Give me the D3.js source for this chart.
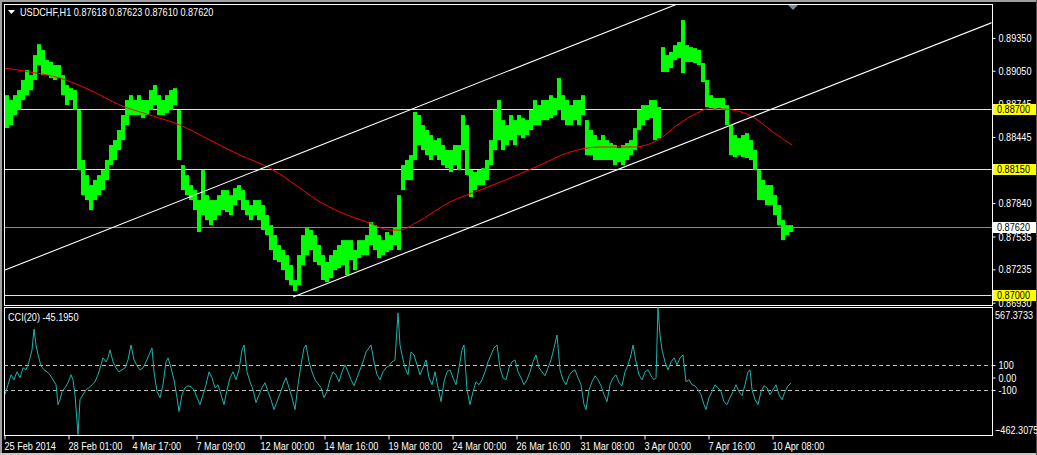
<!DOCTYPE html>
<html><head><meta charset="utf-8">
<script src="https://cdn.jsdelivr.net/npm/d3@7"></script>
<style>html,body{margin:0;padding:0;background:#000;overflow:hidden}</style>
</head><body><svg id="c" width="1037" height="455"></svg>
<script>
// ---------------- data ----------------
const titleText = "USDCHF,H1  0.87618 0.87623 0.87610 0.87620";
const cciTitle = "CCI(20) -45.1950";
const barsPerColumn = 4;
const highs = [
0.88827,0.88782,0.88827,0.88873,0.88965,0.89056,0.89010,0.89193,0.89293,0.89239,
0.89148,0.89130,0.89102,0.89102,0.89010,0.88919,0.88891,0.88873,0.88691,0.88234,
0.88096,0.88005,0.88051,0.88096,0.88142,0.88234,0.88371,0.88416,0.88508,0.88645,
0.88782,0.88827,0.88782,0.88827,0.88782,0.88782,0.88873,0.88919,0.88827,0.88782,
0.88827,0.88873,0.88891,0.88691,0.88188,0.88096,0.88005,0.87959,0.87868,0.88142,
0.87913,0.87868,0.87868,0.87913,0.87959,0.87959,0.87913,0.87977,0.88005,0.87959,
0.87868,0.87822,0.87868,0.87868,0.87822,0.87731,0.87639,0.87548,0.87457,0.87411,
0.87365,0.87274,0.87137,0.87365,0.87548,0.87612,0.87594,0.87548,0.87457,0.87365,
0.87302,0.87365,0.87411,0.87457,0.87502,0.87502,0.87502,0.87411,0.87502,0.87502,
0.87548,0.87667,0.87639,0.87548,0.87502,0.87576,0.87548,0.87612,0.87913,0.88188,
0.88234,0.88279,0.88673,0.88645,0.88553,0.88508,0.88462,0.88416,0.88434,0.88371,
0.88325,0.88325,0.88371,0.88371,0.88645,0.88553,0.88142,0.88124,0.88142,0.88160,
0.88234,0.88416,0.88691,0.88782,0.88599,0.88553,0.88645,0.88599,0.88645,0.88617,
0.88599,0.88691,0.88782,0.88736,0.88782,0.88782,0.88827,0.88800,0.88983,0.88827,
0.88782,0.88736,0.88782,0.88782,0.88827,0.88599,0.88508,0.88462,0.88416,0.88462,
0.88416,0.88389,0.88371,0.88343,0.88371,0.88389,0.88416,0.88526,0.88691,0.88736,
0.88736,0.88782,0.88782,0.88718,0.89266,0.89193,0.89221,0.89284,0.89312,0.89513,
0.89284,0.89266,0.89257,0.89239,0.89120,0.88965,0.88827,0.88800,0.88800,0.88800,
0.88736,0.88553,0.88462,0.88434,0.88462,0.88480,0.88416,0.88325,0.88142,0.88051,
0.88005,0.88005,0.87913,0.87822,0.87685,0.87639,0.87639];
const lows = [
0.88526,0.88553,0.88645,0.88691,0.88782,0.88827,0.88873,0.88965,0.89102,0.89010,
0.89010,0.88983,0.88965,0.88983,0.88827,0.88736,0.88782,0.88691,0.88142,0.87913,
0.87868,0.87777,0.87868,0.87913,0.87959,0.88051,0.88188,0.88234,0.88325,0.88416,
0.88553,0.88645,0.88645,0.88645,0.88617,0.88645,0.88691,0.88736,0.88645,0.88645,
0.88664,0.88691,0.88736,0.88234,0.87959,0.87913,0.87868,0.87777,0.87576,0.87731,
0.87685,0.87639,0.87685,0.87731,0.87777,0.87759,0.87731,0.87822,0.87868,0.87777,
0.87731,0.87685,0.87731,0.87685,0.87594,0.87548,0.87411,0.87320,0.87302,0.87228,
0.87137,0.87091,0.87036,0.87091,0.87274,0.87365,0.87411,0.87302,0.87274,0.87137,
0.87119,0.87155,0.87228,0.87246,0.87274,0.87183,0.87320,0.87228,0.87338,0.87365,
0.87365,0.87457,0.87411,0.87338,0.87365,0.87393,0.87411,0.87457,0.87411,0.87959,
0.88051,0.88051,0.88234,0.88371,0.88325,0.88279,0.88234,0.88279,0.88234,0.88188,
0.88160,0.88124,0.88188,0.88142,0.88325,0.88096,0.87895,0.87959,0.88005,0.88005,
0.88051,0.88188,0.88325,0.88416,0.88325,0.88371,0.88416,0.88371,0.88462,0.88434,
0.88462,0.88508,0.88553,0.88553,0.88599,0.88599,0.88617,0.88645,0.88691,0.88599,
0.88553,0.88553,0.88599,0.88553,0.88645,0.88279,0.88279,0.88234,0.88234,0.88234,
0.88234,0.88234,0.88188,0.88215,0.88188,0.88234,0.88279,0.88325,0.88508,0.88553,
0.88599,0.88617,0.88416,0.88434,0.89038,0.89038,0.89075,0.89148,0.89166,0.89029,
0.89130,0.89130,0.89120,0.89102,0.88947,0.88718,0.88709,0.88691,0.88709,0.88691,
0.88553,0.88279,0.88261,0.88279,0.88261,0.88252,0.88234,0.88142,0.87868,0.87868,
0.87822,0.87822,0.87731,0.87639,0.87502,0.87548,0.87576];
const maBars = [0,25,55,85,115,145,175,205,235,265,295,312,335,365,385,395,412,445,475,505,535,565,595,628,653,672,692,702,717,728,748,768,787];
const maValues = [0.89074,0.89038,0.88983,0.88873,0.88736,0.88645,0.88553,0.88416,0.88279,0.88160,0.87977,0.87868,0.87759,0.87657,0.87594,0.87594,0.87667,0.87850,0.87959,0.88069,0.88188,0.88307,0.88353,0.88353,0.88416,0.88553,0.88663,0.88700,0.88700,0.88691,0.88627,0.88489,0.88371];
const cciBars = [0,3,6,9,12,15,18,21,24,27,29,31,33,36,39,42,45,48,51,53,55,57,60,63,66,68,70,73,75,78,81,84,87,90,93,96,98,101,103,105,108,111,114,117,120,123,126,129,132,135,138,141,144,147,149,152,155,158,161,163,166,169,172,174,177,180,183,186,189,192,195,198,201,204,207,210,213,216,219,222,225,228,231,234,237,239,242,245,248,251,254,257,260,263,266,269,272,275,278,281,284,287,290,293,296,299,301,304,307,310,313,316,319,322,325,328,331,334,337,340,343,346,349,352,355,358,361,364,366,369,372,375,378,381,384,387,390,393,395,397,400,403,406,409,412,415,418,421,424,427,430,433,436,439,442,445,448,451,454,457,459,462,465,468,471,474,477,480,483,486,489,492,495,498,501,504,507,510,513,516,519,522,525,528,531,534,537,540,543,546,549,552,555,558,561,564,567,570,573,576,579,581,584,587,590,593,596,599,602,605,608,611,614,617,620,623,626,628,631,634,637,640,643,646,649,651,653,655,657,660,663,666,669,672,675,678,681,684,687,690,693,696,699,701,704,707,710,713,716,719,722,725,728,731,734,737,740,743,745,747,750,753,756,759,762,765,768,771,774,777,780,783,786];
const cciValues = [-138,-58,22,-18,46,-2,78,62,126,222,390,262,182,94,62,46,22,-18,-58,-218,-178,-114,-82,-42,22,-18,-138,-462.3075,-178,-138,-98,-82,-58,-34,22,102,158,126,158,222,126,78,46,62,78,142,262,142,94,62,78,126,182,238,46,-114,-162,-58,126,158,78,-18,-162,-274,-138,-82,-66,-74,-98,-162,-218,-138,-58,46,-2,-82,-58,-138,-218,-98,-2,46,-18,62,222,262,46,-34,-98,-202,-138,-82,-42,-114,-178,-258,-194,-130,-58,-2,-82,-162,-258,-58,102,238,262,126,46,-18,-50,-82,-162,-114,-18,46,22,-34,46,102,46,-18,-66,-2,62,126,206,238,262,126,22,-18,46,78,94,126,142,520,262,182,78,22,206,182,102,22,78,142,-2,-58,46,-82,-194,-34,46,62,-2,-58,78,222,262,-98,-218,-114,-34,-58,-18,46,126,182,238,262,78,-2,-18,78,126,142,46,-2,-58,-18,46,126,182,78,46,14,78,142,238,342,62,-18,-58,14,46,62,-2,-58,-218,-258,-98,-34,14,-18,-66,-138,-194,-58,-2,22,-42,-66,46,102,182,262,126,22,-18,46,62,14,-18,-2,567.3733,342,222,126,62,126,158,102,158,182,-34,-18,-58,-66,-98,-138,-218,-258,-162,-114,-58,-82,-114,-194,-218,-162,-114,-58,-114,-146,-58,46,62,-98,-178,-218,-114,-66,-82,-138,-98,-58,-138,-178,-114,-66,-45.195];
const timeTickBars = [0,64,128,192,256,320,384,448,512,576,640,704,768];
const timeTickLabels = ["25 Feb 2014","28 Feb 01:00","4 Mar 17:00","7 Mar 09:00","12 Mar 00:00","14 Mar 16:00","19 Mar 08:00","24 Mar 00:00","26 Mar 16:00","31 Mar 08:00","3 Apr 00:00","7 Apr 16:00","10 Apr 08:00"];
const priceTicks = [0.89350,0.89050,0.88745,0.88445,0.88140,0.87840,0.87535,0.87235,0.86930];
const priceRange = [0.86909, 0.89660];
const levelPrices = [0.88700, 0.88150, 0.87000];
const bidPrice = 0.87620;
const cciRange = [-462.3075, 567.3733];
const cciTicks = [100, 0, -100];
const cciLevels = [100, -100];
const channelBars = [[0,595],[288,815]];
const channelPrices = [[0.87228,0.89380],[0.86982,0.88873]];
const lastBar = 987;
const shiftBar = 788;

// ---------------- drawing ----------------
const svg = d3.select("#c");
const FONT = "'Liberation Sans',Arial,sans-serif";
const SQUEEZE = 0.83;
const L = 4, R = 992, mT = 4, mB = 305, cT = 307, cB = 435;

svg.append("rect").attr("width",1037).attr("height",455).attr("fill","#000");
svg.append("rect").attr("x",0).attr("y",0).attr("width",1037).attr("height",2).attr("fill","#a0a0a0");
svg.append("rect").attr("x",0).attr("y",0).attr("width",2).attr("height",455).attr("fill","#a0a0a0");
svg.append("rect").attr("x",0).attr("y",453).attr("width",1037).attr("height",2).attr("fill","#c8c8c8");
svg.append("rect").attr("x",1036).attr("y",0).attr("width",1).attr("height",455).attr("fill","#505050");

const x = d3.scaleLinear().domain([0, lastBar]).range([5, R]);
const yP = d3.scaleLinear().domain(priceRange).range([mB, mT]);
const yC = d3.scaleLinear().domain(cciRange).range([cB, cT]);

const defs = svg.append("defs");
defs.append("clipPath").attr("id","cm").append("rect").attr("x",L+0.5).attr("y",mT+0.5).attr("width",R-L-1).attr("height",mB-mT-1);
defs.append("clipPath").attr("id","cc").append("rect").attr("x",L+0.5).attr("y",cT+0.5).attr("width",R-L-1).attr("height",cB-cT-1);

const gm = svg.append("g").attr("clip-path","url(#cm)");
gm.selectAll("line.lvl").data(levelPrices).enter().append("line")
  .attr("x1",L).attr("x2",R).attr("y1",d=>Math.round(yP(d))+0.5).attr("y2",d=>Math.round(yP(d))+0.5)
  .attr("stroke","#ffff00").attr("stroke-width",1);
gm.append("line").attr("x1",L).attr("x2",R).attr("y1",Math.round(yP(bidPrice))+0.5).attr("y2",Math.round(yP(bidPrice))+0.5)
  .attr("stroke","#8c8c8c").attr("stroke-width",1);

gm.selectAll("rect.bar").data(highs).enter().append("rect")
  .attr("x",(d,i)=>x(i*barsPerColumn))
  .attr("width",x(barsPerColumn)-x(0))
  .attr("y",d=>yP(d))
  .attr("height",(d,i)=>Math.max(1,yP(lows[i])-yP(d)))
  .attr("fill","#00ff00");

const maData = maBars.map((b,i)=>[b,maValues[i]]);
gm.append("path").datum(maData)
  .attr("d",d3.line().x(d=>x(d[0])).y(d=>yP(d[1])).curve(d3.curveMonotoneX))
  .attr("fill","none").attr("stroke","#ff0000").attr("stroke-width",1);

channelBars.forEach((bb,k)=>{
  const pp = channelPrices[k];
  const slope = (pp[1]-pp[0])/(bb[1]-bb[0]);
  const endPrice = pp[0] + slope*(lastBar-bb[0]);
  gm.append("line").attr("x1",x(bb[0])).attr("y1",yP(pp[0])).attr("x2",x(lastBar)).attr("y2",yP(endPrice))
    .attr("stroke","#ffffff").attr("stroke-width",1.1);
});

svg.append("rect").attr("x",L+0.5).attr("y",mT+0.5).attr("width",R-L).attr("height",mB-mT).attr("fill","none").attr("stroke","#fff");
svg.append("rect").attr("x",L+0.5).attr("y",cT+0.5).attr("width",R-L).attr("height",cB-cT).attr("fill","none").attr("stroke","#fff");

const sx = x(shiftBar);
svg.append("path").attr("d",`M${sx-5},${mT+1}L${sx+5},${mT+1}L${sx},${mT+6}Z`).attr("fill","#778899");

svg.append("path").attr("d","M8,10L15,10L11.5,14Z").attr("fill","#fff");
svg.append("text").attr("class","t").attr("x",20).attr("y",16).text(titleText).attr("fill","#fff");

const pa = svg.append("g").attr("transform",`translate(${R+0.5},0)`)
  .call(d3.axisRight(yP).tickValues(priceTicks).tickSize(3).tickPadding(3).tickFormat(d3.format(".5f")));
pa.select(".domain").remove();
pa.selectAll("line").attr("stroke","#fff");
pa.selectAll("text").attr("class","t").attr("fill","#fff");

const boxes = levelPrices.map(p=>({p, bg:"#ffff00"})).concat([{p:bidPrice,bg:"#ffffff"}]);
boxes.forEach(b=>{
  const yy = Math.round(yP(b.p));
  svg.append("rect").attr("x",R+1).attr("y",yy-5).attr("width",1036-R-1).attr("height",11).attr("fill",b.bg);
  svg.append("text").attr("class","t").attr("x",R+5).attr("y",yy+4).text(d3.format(".5f")(b.p)).attr("fill","#000");
});

const gc = svg.append("g").attr("clip-path","url(#cc)");
gc.selectAll("line.lv").data(cciLevels).enter().append("line")
  .attr("x1",L).attr("x2",R).attr("y1",d=>Math.round(yC(d))+0.5).attr("y2",d=>Math.round(yC(d))+0.5)
  .attr("stroke","#c0c0c0").attr("stroke-dasharray","4,3");
const cciData = cciBars.map((b,i)=>[b,cciValues[i]]);
gc.append("path").datum(cciData)
  .attr("d",d3.line().x(d=>x(d[0])).y(d=>yC(d[1])))
  .attr("fill","none").attr("stroke","#20b2aa").attr("stroke-width",1);
svg.append("text").attr("class","t").attr("x",8).attr("y",321).text(cciTitle).attr("fill","#fff");

const ca = svg.append("g").attr("transform",`translate(${R+0.5},0)`)
  .call(d3.axisRight(yC).tickValues(cciTicks).tickSize(3).tickPadding(3).tickFormat(d=>d===0?"0.00":String(d)));
ca.select(".domain").remove();
ca.selectAll("line").attr("stroke","#fff");
ca.selectAll("text").attr("class","t").attr("fill","#fff");
svg.append("text").attr("class","t").attr("x",R+3).attr("y",yC(cciRange[1])+12).text(d3.format(".4f")(cciRange[1])).attr("fill","#fff");
svg.append("text").attr("class","t").attr("x",R+3).attr("y",yC(cciRange[0])-1).text(d3.format(".4f")(cciRange[0])).attr("fill","#fff");

const ta = svg.append("g").attr("transform",`translate(0,${cB+0.5})`)
  .call(d3.axisBottom(x).tickValues(timeTickBars).tickSize(4).tickPadding(3).tickFormat((d,i)=>timeTickLabels[i]));
ta.select(".domain").remove();
ta.selectAll("line").attr("stroke","#fff").attr("transform","translate(-0.5,0)");
ta.selectAll("text").attr("class","t").attr("fill","#fff").attr("text-anchor","start").attr("dx","-1");

svg.selectAll("text.t").attr("font-family",FONT).attr("font-size","11px")
  .each(function(){
    const w = this.getComputedTextLength();
    d3.select(this).attr("textLength", (w*SQUEEZE).toFixed(1)).attr("lengthAdjust","spacingAndGlyphs");
  });
</script></body></html>
